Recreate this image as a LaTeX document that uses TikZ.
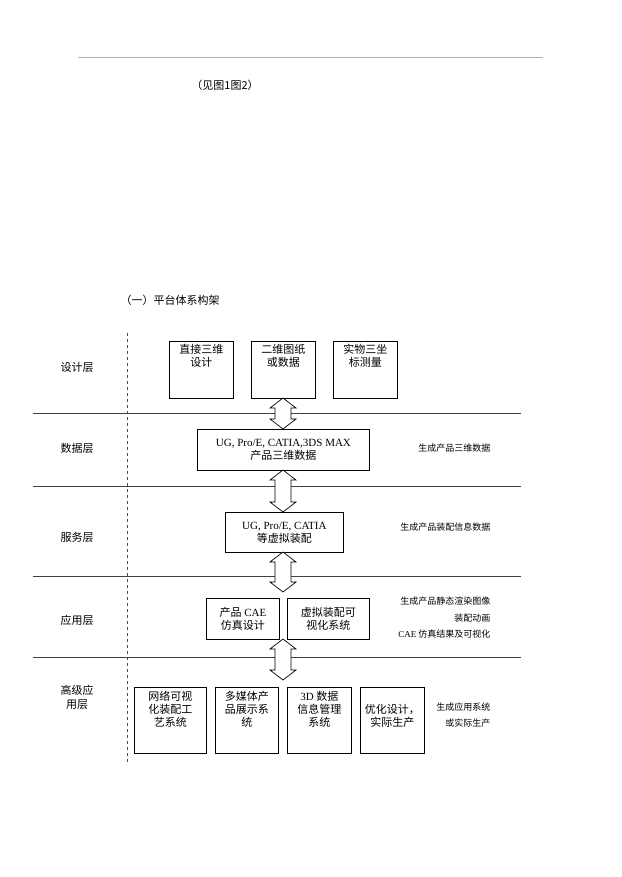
\documentclass[tikz,border=0pt]{standalone}
\usepackage{fontspec}
\setmainfont{Noto Sans CJK SC}
\newfontfamily\serifcjk{Liberation Serif}
\begin{document}
\begin{tikzpicture}[x=1pt,y=-1pt,
  bx/.style={draw,line width=0.8pt,inner sep=0pt,align=center,anchor=north west,font=\fontsize{11}{13}\selectfont},
  lbl/.style={font=\fontsize{11}{14}\selectfont,align=center},
  note/.style={font=\fontsize{9}{11}\selectfont,align=right,anchor=east},
  hl/.style={line width=0.8pt,draw=black!75}]
\useasboundingbox (0,0) rectangle (621,877);
\newcommand\dblarr[3]{\draw[line width=0.7pt,fill=white] (#1,#2) -- ++(13,10) -- ++(-5,0) -- (#1+8,#3-10) -- ++(5,0) -- (#1,#3) -- (#1-13,#3-10) -- ++(5,0) -- (#1-8,#2+10) -- ++(-5,0) -- cycle;}
\draw[black!30] (78,57) -- (543,57);
\node[lbl] (see) at (225,85) {（见图1图2）};
\node[lbl] (title) at (170,300) {（一）平台体系构架};
\draw[dashed,black!70] (127,333) -- (127,765);
\foreach \y in {413,486,576,657} \draw[hl] (33,\y) -- (521,\y);
\node[lbl] (l1) at (77,367) {设计层};
\node[lbl] (l2) at (77,448) {数据层};
\node[lbl] (l3) at (77,537) {服务层};
\node[lbl] (l4) at (77,620) {应用层};
\node[lbl] (l5) at (77,697) {高级应\\用层};
\node[bx,minimum width=64,minimum height=57,anchor=north west,text height=24,text depth=30] (d1) at (169,341) {直接三维\\设计};
\node[bx,minimum width=64,minimum height=57,text height=24,text depth=30] (d2) at (251,341) {二维图纸\\或数据};
\node[bx,minimum width=64,minimum height=57,text height=24,text depth=30] (d3) at (333,341) {实物三坐\\标测量};
\node[bx,minimum width=172,minimum height=41] (db) at (197,429) {{\serifcjk UG, Pro/E, CATIA,3DS MAX}\\产品三维数据};
\node[bx,minimum width=118,minimum height=40] (sv) at (225,512) {{\serifcjk UG, Pro/E, CATIA}\\等虚拟装配};
\node[bx,minimum width=73,minimum height=41] (a1) at (206,598) {产品{\serifcjk\ CAE}\\仿真设计};
\node[bx,minimum width=82,minimum height=41] (a2) at (287,598) {虚拟装配可\\视化系统};
\node[bx,minimum width=72,minimum height=66,text height=36,text depth=24] (h1) at (134,687) {网络可视\\化装配工\\艺系统};
\node[bx,minimum width=63,minimum height=66,text height=36,text depth=24] (h2) at (215,687) {多媒体产\\品展示系\\统};
\node[bx,minimum width=64,minimum height=66,text height=36,text depth=24] (h3) at (287,687) {{\serifcjk 3D} 数据\\信息管理\\系统};
\node[bx,minimum width=64,minimum height=66,text height=36,text depth=24] (h4) at (360,687) {优化设计，\\实际生产};
\dblarr{283}{398}{429}
\dblarr{283}{470}{512}
\dblarr{283}{552}{592}
\dblarr{283}{639}{680}
\node[note] (n1) at (494,448) {生成产品三维数据};
\node[note] (n2) at (494,527) {生成产品装配信息数据};
\node[note] (n3) at (494,601) {生成产品静态渲染图像};
\node[note] (n4) at (494,618) {装配动画};
\node[note] (n5) at (494,634) {{\serifcjk CAE} 仿真结果及可视化};
\node[note] (n6) at (494,707) {生成应用系统};
\node[note] (n7) at (494,723) {或实际生产};
\end{tikzpicture}
\end{document}
